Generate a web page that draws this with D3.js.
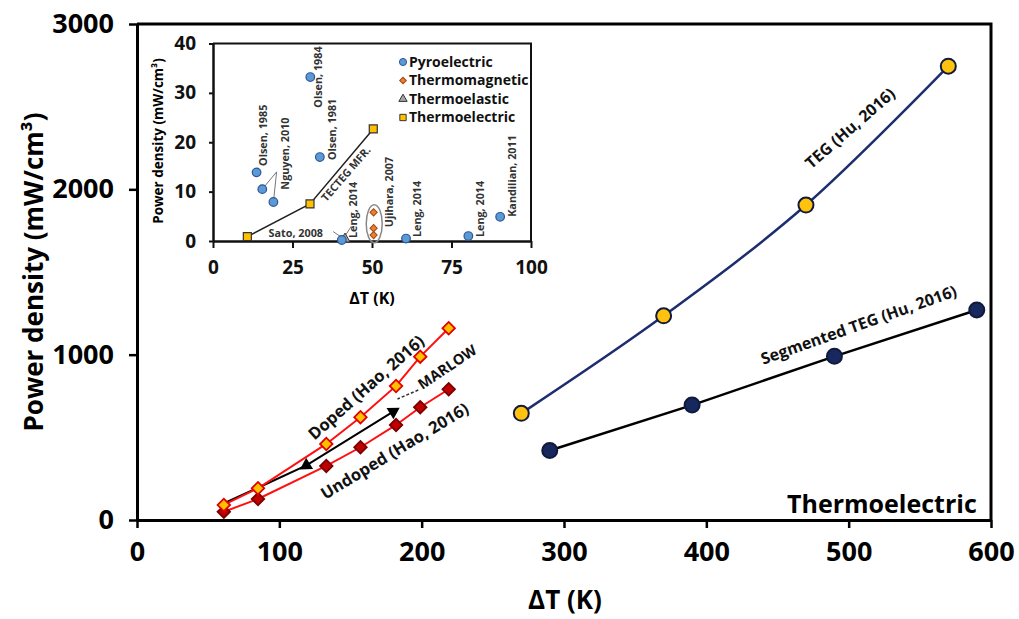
<!DOCTYPE html>
<html>
<head>
<meta charset="utf-8">
<script src="https://cdn.jsdelivr.net/npm/d3@7"></script>
<style>
  body { margin: 0; background: #fff; }
  svg text { font-family: "Open Sans", sans-serif; font-weight: bold; }
</style>
</head>
<body>
<div id="chart"></div>
<script>
// Main chart data (ΔT in K, power density in mW/cm3)
var tegDT = [270, 370, 470, 570];
var tegPower = [645, 1235, 1905, 2745];
var segDT = [290, 390, 490, 590];
var segPower = [420, 695, 990, 1270];
var haoDT = [61, 85, 133, 157, 182, 199, 219];
var dopedPower = [91, 192, 460, 621, 811, 988, 1160];
var undopedPower = [50, 127, 327, 440, 575, 682, 791];
var marlowDT = [62, 85, 119, 180];
var marlowPower = [105, 195, 330, 655];
var xTicks = [0, 100, 200, 300, 400, 500, 600];
var yTicks = [0, 1000, 2000, 3000];

// Inset data
var pyroDT = [13.7, 15.5, 19, 30.6, 33.6, 40.5, 60.7, 80.3, 90.3];
var pyroPower = [13.9, 10.5, 7.9, 33.2, 17, 0.2, 0.5, 1.0, 4.9];
var magnetoDT = [50.5, 50.5, 50.5];
var magnetoPower = [5.8, 2.6, 1.2];
var elasticDT = [41.5];
var elasticPower = [0];
var electricDT = [10.8, 30.5, 50.4];
var electricPower = [0.9, 7.5, 22.7];
var insetXTicks = [0, 25, 50, 75, 100];
var insetYTicks = [0, 10, 20, 30, 40];
var legendNames = ['Pyroelectric', 'Thermomagnetic', 'Thermoelastic', 'Thermoelectric'];

function zip(a, b) { return a.map(function (v, i) { return [v, b[i]]; }); }

var svg = d3.select('#chart').append('svg')
  .attr('width', 1019)
  .attr('height', 619);

// Main scales
var x = d3.scaleLinear().domain([0, 600]).range([137, 991]);
var y = d3.scaleLinear().domain([0, 3000]).range([520, 24]);
var line = d3.line()
  .x(function (d) { return x(d[0]); })
  .y(function (d) { return y(d[1]); });

// Frame (top and right)
svg.append('path')
  .attr('d', 'M' + x(0) + ',' + y(3000) + 'H' + x(600) + 'V' + y(0))
  .attr('fill', 'none')
  .attr('stroke', '#000')
  .attr('stroke-width', 3);

// Axes
var yAxis = d3.axisLeft(y).tickValues(yTicks).tickFormat(d3.format('d'))
  .tickSize(8).tickSizeOuter(0).tickPadding(15);
var gy = svg.append('g').attr('transform', 'translate(' + x(0) + ',0)').call(yAxis);
var xAxis = d3.axisBottom(x).tickValues(xTicks).tickFormat(d3.format('d'))
  .tickSize(8).tickSizeOuter(0).tickPadding(14);
var gx = svg.append('g').attr('transform', 'translate(0,' + y(0) + ')').call(xAxis);
[gx, gy].forEach(function (g) {
  g.select('.domain').attr('stroke-width', 3);
  g.selectAll('.tick line').attr('stroke-width', 2.5);
  g.selectAll('.tick text').attr('font-size', 27).attr('fill', '#000');
});

svg.append('text')
  .attr('transform', 'translate(34,272)rotate(-90)')
  .attr('text-anchor', 'middle')
  .attr('dy', '0.35em')
  .attr('font-size', 26)
  .text('Power density (mW/cm³)');
svg.append('text')
  .attr('x', 565)
  .attr('y', 609)
  .attr('text-anchor', 'middle')
  .attr('font-size', 26)
  .text('ΔT (K)');

// MARLOW line, arrowheads at the last two points
var marlow = zip(marlowDT, marlowPower);
svg.append('path')
  .attr('d', line(marlow))
  .attr('fill', 'none')
  .attr('stroke', '#000')
  .attr('stroke-width', 2);
var mA = marlow[2], mB = marlow[3];
var mAngle = Math.atan2(y(mB[1]) - y(mA[1]), x(mB[0]) - x(mA[0])) * 180 / Math.PI;
svg.selectAll('.marlow')
  .data([[mA, mAngle + 270], [mB, mAngle + 90]])
  .enter()
  .append('path')
  .attr('d', d3.symbol(d3.symbolTriangle, 75))
  .attr('transform', function (d) { return 'translate(' + x(d[0][0]) + ',' + y(d[0][1]) + ')rotate(' + d[1] + ')'; })
  .attr('fill', '#000');

// Hao lines
function diamondSeries(data, fill, stroke) {
  svg.append('path')
    .attr('d', line(data))
    .attr('fill', 'none')
    .attr('stroke', '#ff1010')
    .attr('stroke-width', 2);
  svg.selectAll(null)
    .data(data)
    .enter()
    .append('path')
    .attr('d', d3.symbol(d3.symbolSquare, 78))
    .attr('transform', function (d) { return 'translate(' + x(d[0]) + ',' + y(d[1]) + ')rotate(45)'; })
    .attr('fill', fill)
    .attr('stroke', stroke)
    .attr('stroke-width', 1.8);
}
diamondSeries(zip(haoDT, undopedPower), '#c00000', '#7a0000');
diamondSeries(zip(haoDT, dopedPower), '#ffc000', '#e00000');

// Hu lines
function circleSeries(data, lineColor, fill, curve) {
  svg.append('path')
    .attr('d', line.curve(curve)(data))
    .attr('fill', 'none')
    .attr('stroke', lineColor)
    .attr('stroke-width', 2.5);
  line.curve(d3.curveLinear);
  svg.selectAll(null)
    .data(data)
    .enter()
    .append('circle')
    .attr('cx', function (d) { return x(d[0]); })
    .attr('cy', function (d) { return y(d[1]); })
    .attr('r', 7.5)
    .attr('fill', fill)
    .attr('stroke', '#111a3a')
    .attr('stroke-width', 2);
}
circleSeries(zip(tegDT, tegPower), '#1c2e6e', '#ffc20e', d3.curveCatmullRom);
circleSeries(zip(segDT, segPower), '#000', '#17285e', d3.curveLinear);

// Annotations (data coordinates)
var notes = [
  { text: 'TEG (Hu, 2016)', dt: 501, p: 2370, angle: -41, size: 16 },
  { text: 'Segmented TEG (Hu, 2016)', dt: 507, p: 1180, angle: -19.5, size: 16 },
  { text: 'Doped (Hao, 2016)', dt: 161, p: 802, angle: -41.5, size: 16.5 },
  { text: 'Undoped (Hao, 2016)', dt: 181, p: 417, angle: -31.3, size: 16.5 },
  { text: 'MARLOW', dt: 218, p: 925, angle: -34, size: 14.5 }
];
svg.selectAll(null)
  .data(notes)
  .enter()
  .append('text')
  .attr('transform', function (d) { return 'translate(' + x(d.dt) + ',' + y(d.p) + ')rotate(' + d.angle + ')'; })
  .attr('text-anchor', 'middle')
  .attr('dy', '0.35em')
  .attr('font-size', function (d) { return d.size; })
  .attr('fill', '#111')
  .text(function (d) { return d.text; });
svg.append('line')
  .attr('x1', x(197.6)).attr('y1', y(786))
  .attr('x2', x(183)).attr('y2', y(732))
  .attr('stroke', '#333')
  .attr('stroke-width', 1.5)
  .attr('stroke-dasharray', '3,2');
svg.append('text')
  .attr('x', x(590))
  .attr('y', y(42))
  .attr('text-anchor', 'end')
  .attr('font-size', 25)
  .text('Thermoelectric');

// Inset
var ix = d3.scaleLinear().domain([0, 100]).range([213, 531]);
var iy = d3.scaleLinear().domain([0, 40]).range([241, 43.5]);
var iline = d3.line()
  .x(function (d) { return ix(d[0]); })
  .y(function (d) { return iy(d[1]); });
var inset = svg.append('g');

inset.append('path')
  .attr('d', 'M' + ix(0) + ',' + iy(40) + 'H' + ix(100) + 'V' + iy(0))
  .attr('fill', 'none')
  .attr('stroke', '#111')
  .attr('stroke-width', 2);
var iyAxis = d3.axisLeft(iy).tickValues(insetYTicks).tickSize(4).tickSizeOuter(0).tickPadding(13);
var giy = inset.append('g').attr('transform', 'translate(' + ix(0) + ',0)').call(iyAxis);
var ixAxis = d3.axisBottom(ix).tickValues(insetXTicks).tickSize(7).tickSizeOuter(0).tickPadding(13);
var gix = inset.append('g').attr('transform', 'translate(0,' + iy(0) + ')').call(ixAxis);
[gix, giy].forEach(function (g) {
  g.select('.domain').attr('stroke-width', 2.5).attr('stroke', '#111');
  g.selectAll('.tick line').attr('stroke-width', 2).attr('stroke', '#111');
  g.selectAll('.tick text').attr('font-size', 19).attr('fill', '#111');
});
inset.append('text')
  .attr('transform', 'translate(158,141)rotate(-90)')
  .attr('text-anchor', 'middle')
  .attr('dy', '0.35em')
  .attr('font-size', 13.5)
  .text('Power density (mW/cm³)');
inset.append('text')
  .attr('x', ix(50))
  .attr('y', 304)
  .attr('text-anchor', 'middle')
  .attr('font-size', 16)
  .text('ΔT (K)');

// leader lines and ellipse
var leaders = [
  [[20, 14], [pyroDT[1], pyroPower[1]]],
  [[20, 14], [pyroDT[2], pyroPower[2]]],
  [[37.8, 1.9], [40.5, 0.7]],
  [[43.5, 3], [41.5, 1]]
];
inset.selectAll(null)
  .data(leaders)
  .enter()
  .append('path')
  .attr('d', function (d) { return iline(d); })
  .attr('stroke', '#777')
  .attr('stroke-width', 1)
  .attr('fill', 'none');
inset.append('ellipse')
  .attr('cx', ix(50.7))
  .attr('cy', iy(3.5))
  .attr('rx', 8)
  .attr('ry', 19)
  .attr('fill', 'none')
  .attr('stroke', '#888')
  .attr('stroke-width', 1.5);

// thermoelectric line + squares
inset.append('path')
  .attr('d', iline(zip(electricDT, electricPower)))
  .attr('fill', 'none')
  .attr('stroke', '#222')
  .attr('stroke-width', 1.5);
inset.selectAll(null)
  .data(zip(elasticDT, elasticPower))
  .enter()
  .append('path')
  .attr('d', d3.symbol(d3.symbolTriangle, 45))
  .attr('transform', function (d) { return 'translate(' + ix(d[0]) + ',' + (iy(d[1]) - 2) + ')'; })
  .attr('fill', '#a5a5a5')
  .attr('stroke', '#333')
  .attr('stroke-width', 1);
inset.selectAll(null)
  .data(zip(pyroDT, pyroPower))
  .enter()
  .append('circle')
  .attr('cx', function (d) { return ix(d[0]); })
  .attr('cy', function (d) { return iy(d[1]); })
  .attr('r', 4.3)
  .attr('fill', '#5b9bd5')
  .attr('stroke', '#2f5597')
  .attr('stroke-width', 1.2);
inset.selectAll(null)
  .data(zip(magnetoDT, magnetoPower))
  .enter()
  .append('path')
  .attr('d', d3.symbol(d3.symbolSquare, 26))
  .attr('transform', function (d) { return 'translate(' + ix(d[0]) + ',' + iy(d[1]) + ')rotate(45)'; })
  .attr('fill', '#ed7d31')
  .attr('stroke', '#9c4a12')
  .attr('stroke-width', 1);
inset.selectAll(null)
  .data(zip(electricDT, electricPower))
  .enter()
  .append('path')
  .attr('d', d3.symbol(d3.symbolSquare, 64))
  .attr('transform', function (d) { return 'translate(' + ix(d[0]) + ',' + iy(d[1]) + ')'; })
  .attr('fill', '#ffc000')
  .attr('stroke', '#333')
  .attr('stroke-width', 1.2);

// inset point labels (data coordinates)
var insetNotes = [
  { text: 'Olsen, 1985', dt: 15.8, p: 15.2, angle: -90, anchor: 'start' },
  { text: 'Nguyen, 2010', dt: 22.6, p: 10.4, angle: -90, anchor: 'start' },
  { text: 'Olsen, 1984', dt: 33.1, p: 27, angle: -90, anchor: 'start' },
  { text: 'Olsen, 1981', dt: 37.4, p: 16.4, angle: -90, anchor: 'start' },
  { text: 'Leng, 2014', dt: 44.2, p: 0.6, angle: -90, anchor: 'start' },
  { text: 'Ujihara, 2007', dt: 55.3, p: 2.8, angle: -90, anchor: 'start' },
  { text: 'Leng, 2014', dt: 64.3, p: 0.8, angle: -90, anchor: 'start' },
  { text: 'Leng, 2014', dt: 84, p: 0.8, angle: -90, anchor: 'start' },
  { text: 'Kandilian, 2011', dt: 94, p: 4.9, angle: -90, anchor: 'start' },
  { text: 'Sato, 2008', dt: 34.6, p: 0.9, angle: 0, anchor: 'end' },
  { text: 'TECTEG MFR.', dt: 41.8, p: 13.6, angle: -49, anchor: 'middle' }
];
inset.selectAll(null)
  .data(insetNotes)
  .enter()
  .append('text')
  .attr('transform', function (d) { return 'translate(' + ix(d.dt) + ',' + iy(d.p) + ')rotate(' + d.angle + ')'; })
  .attr('text-anchor', function (d) { return d.anchor; })
  .attr('dy', function (d) { return d.angle === 0 ? '0' : '0.35em'; })
  .attr('font-size', 10.8)
  .attr('fill', '#333')
  .text(function (d) { return d.text; });

// inset legend
var legendSymbols = [
  d3.symbol(d3.symbolCircle, 40),
  d3.symbol(d3.symbolSquare, 22),
  d3.symbol(d3.symbolTriangle, 30),
  d3.symbol(d3.symbolSquare, 40)
];
var legendFill = ['#5b9bd5', '#ed7d31', '#a5a5a5', '#ffc000'];
var legendStroke = ['#2f5597', '#9c4a12', '#333', '#333'];
var legend = inset.selectAll('.legend')
  .data(legendNames)
  .enter()
  .append('g')
  .attr('transform', function (d, i) { return 'translate(403,' + (62 + i * 18.5) + ')'; });
legend.append('path')
  .attr('d', function (d, i) { return legendSymbols[i](); })
  .attr('transform', function (d, i) { return i === 1 ? 'rotate(45)' : ''; })
  .attr('fill', function (d, i) { return legendFill[i]; })
  .attr('stroke', function (d, i) { return legendStroke[i]; })
  .attr('stroke-width', 1);
legend.append('text')
  .attr('x', 6)
  .attr('dy', '0.35em')
  .attr('font-size', 14)
  .attr('fill', '#111')
  .text(function (d) { return d; });
</script>
</body>
</html>
